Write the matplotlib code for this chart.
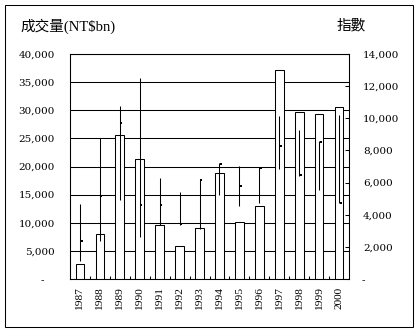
import numpy as np
import matplotlib
matplotlib.use("Agg")
import matplotlib.pyplot as plt
from matplotlib.patches import Rectangle
from matplotlib.ticker import FuncFormatter, MultipleLocator

# Yearly turnover (NT$bn) and index high / low / close
years = ["1987", "1988", "1989", "1990", "1991", "1992", "1993",
         "1994", "1995", "1996", "1997", "1998", "1999", "2000"]
volume = [2700, 8050, 25600, 21400, 9650, 5850, 9050,
          18850, 10150, 13050, 37150, 29750, 29400, 30600]
idx_high = [4690, 8750, 10790, 12510, 6310, 5410, 6140,
            7220, 7010, 6970, 10140, 9290, 8570, 10230]
idx_low = [1100, 2390, 4900, 2590, 3330, 3330, 3140,
           5210, 4520, 4730, 6840, 6390, 5520, 4730]
idx_close = [2390, 5160, 9690, 4580, 4630, 3400, 6140,
             7180, 5770, 6930, 8260, 6470, 8520, 4750]

W, H = 419, 333
num_font = ["DejaVu Serif"]
title_font = ["Liberation Serif", "Noto Sans CJK TC"]


def thousands(v, pos):
    return "" if v == 0 else f"{v:,.0f}"


fig = plt.figure(figsize=(W / 100, H / 100), dpi=100)
ax = fig.add_axes([70 / W, 54 / H, 279 / W, 225 / H])
ax2 = ax.twinx()

x = np.arange(len(years))
ax.bar(x, volume, width=0.44, facecolor="white", edgecolor="black",
       linewidth=0.75, zorder=3)
ax.set_xlim(-0.5, len(years) - 0.5)
ax.set_ylim(0, 40000)
ax.yaxis.set_major_locator(MultipleLocator(5000))
ax.yaxis.set_major_formatter(FuncFormatter(thousands))
ax.yaxis.grid(True, color="black", linewidth=0.75)
ax.set_axisbelow(True)
ax.tick_params(axis="y", length=0, pad=10.8, labelsize=7.5)
for lab in ax.get_yticklabels():
    lab.set_family(num_font)

ax.set_xticks(x)
ax.set_xticklabels(years, rotation=90, family=["Liberation Serif"], fontsize=8.2)
ax.set_xticks(x[:-1] + 0.5, minor=True)
ax.tick_params(axis="x", which="major", length=0, pad=5.8)
ax.tick_params(axis="x", which="minor", direction="in", length=2.5, width=0.75)

# index hi-lo lines with close marks on the right scale
ax2.vlines(x, idx_low, idx_high, colors="black", linewidth=0.75, zorder=4)
ax2.plot(x + 0.08, idx_close, "s", ms=1.6, mew=0, color="black", zorder=5)
ax2.set_ylim(0, 14000)
ax2.yaxis.set_major_locator(MultipleLocator(2000))
ax2.yaxis.set_major_formatter(FuncFormatter(thousands))
ax2.tick_params(axis="y", direction="in", length=3, width=0.75, pad=10,
                labelsize=7.5)
for lab in ax2.get_yticklabels():
    lab.set_family(num_font)

for a in (ax, ax2):
    for s in a.spines.values():
        s.set_linewidth(0.75)
        s.set_color("black")

# zero shown as a dash on both scales
fig.text(41 / W, 1 - 281 / H, "-", family=num_font, fontsize=7.5,
         ha="left", va="center")
fig.text(362 / W, 1 - 281 / H, "-", family=num_font, fontsize=7.5,
         ha="left", va="center")

fig.text(20 / W, 1 - 26 / H, "成交量(NT$bn)", family=title_font,
         fontsize=10.5, ha="left", va="center")
fig.text(337 / W, 1 - 26 / H, "指數", family=title_font,
         fontsize=10.5, ha="left", va="center")

fig.patches.append(Rectangle((5 / W, 1 - 327 / H), 408 / W, 322 / H,
                             transform=fig.transFigure, fill=False,
                             edgecolor="black", linewidth=0.75))

fig.savefig("out.png", dpi=100)
